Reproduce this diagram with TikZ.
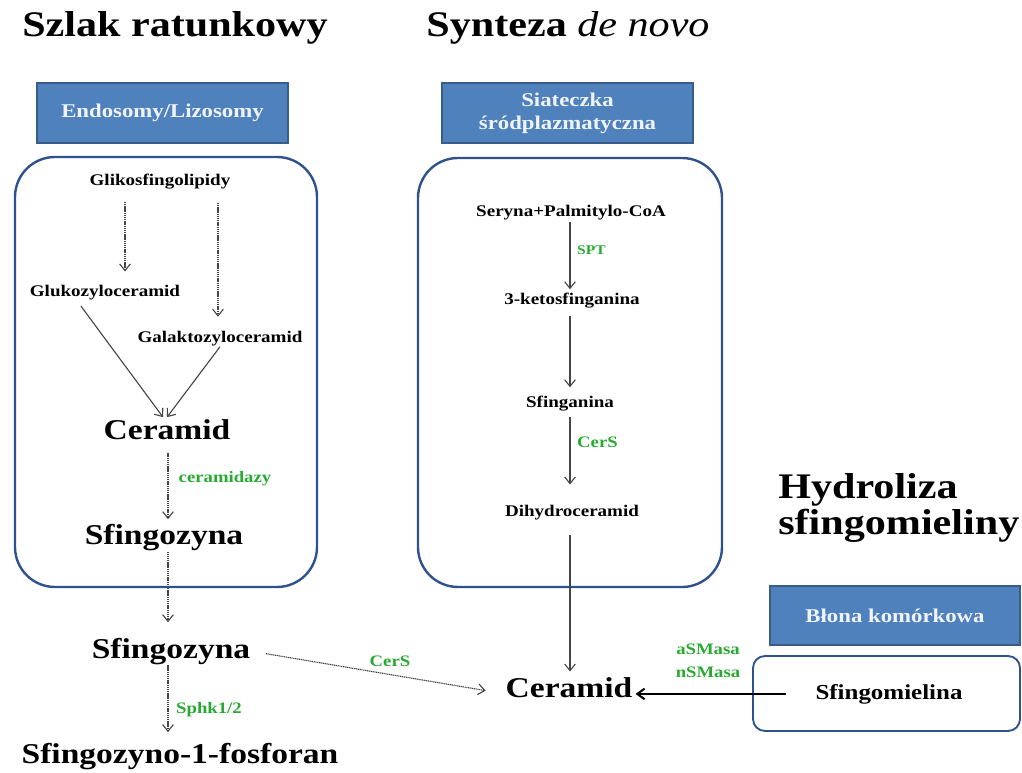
\documentclass[tikz,border=0pt]{standalone}
\usepackage{fontspec}
\setmainfont{Liberation Serif}[FakeStretch=1.17]
\usetikzlibrary{arrows.meta,calc}
\definecolor{hdrfill}{RGB}{79,129,189}
\definecolor{hdrdraw}{RGB}{56,93,138}
\definecolor{boxdraw}{RGB}{47,82,143}
\definecolor{enz}{RGB}{40,170,50}
\definecolor{arr}{RGB}{70,70,70}
\definecolor{hdrtext}{RGB}{240,244,250}
\begin{document}
\begin{tikzpicture}[x=0.75pt,y=-0.75pt,
  txt/.style={inner sep=0pt, anchor=base, font=\bfseries\fontsize{12.2}{14}\selectfont},
  big/.style={inner sep=0pt, anchor=base, font=\bfseries\fontsize{21.5}{24}\selectfont},
  ttl/.style={inner sep=0pt, anchor=base, font=\bfseries\fontsize{27}{32}\selectfont},
  enzl/.style={inner sep=0pt, anchor=base, text=enz, font=\bfseries\fontsize{12}{14}\selectfont},
  hdr/.style={draw=hdrdraw, fill=hdrfill, line width=1.2pt, text=hdrtext, font=\bfseries\fontsize{14.6}{17.25}\selectfont, align=center, minimum width=188.25pt, minimum height=45pt, inner sep=0pt},
  container/.style={draw=boxdraw, line width=1.8pt, rounded corners=30pt, inner sep=0pt},
  tipg/.style={-{Straight Barb[length=5pt,width=8pt]}},
  dotarr/.style={tipg, draw=arr, line width=0.85pt, dash pattern=on 0.9pt off 0.5pt},
  solarr/.style={tipg, draw=arr, line width=0.85pt},
]
\useasboundingbox (0,0) rectangle (1022,773);

% titles
\node[ttl] (t1) at (175,37) {Szlak ratunkowy};
\node[ttl] (t2) at (568,37) {Synteza {\mdseries\itshape de novo}};
\node[ttl, anchor=base west] (t3a) at (778,499) {Hydroliza};
\node[ttl, anchor=base west] (t3b) at (778,535) {sfingomieliny};

% headers
\node[hdr] (h1) at (162.5,113) {Endosomy/Lizosomy};
\node[hdr] (h2) at (567.5,113) {Siateczka\\śródplazmatyczna};
\node[hdr, minimum width=187.5pt, minimum height=44.25pt] (h3) at (895,615.5) {Błona komórkowa};

% containers
\node[container, minimum width=226.5pt, minimum height=322.5pt] (c1) at (166,372) {};
\node[container, minimum width=228pt, minimum height=321.75pt] (c2) at (570,372.5) {};
\node[container, rounded corners=9pt, line width=1.4pt, minimum width=200.25pt, minimum height=56.25pt] (c3) at (886.5,693.5) {};

% salvage pathway
\node[txt] (glik) at (160,186) {Glikosfingolipidy};
\node[txt] (gluk) at (105,297) {Glukozyloceramid};
\node[txt] (galak) at (220,343) {Galaktozyloceramid};
\node[big] (cerL) at (167,440) {Ceramid};
\node[big] (sf1) at (164,545) {Sfingozyna};
\node[big] (sf2) at (171,658) {Sfingozyna};
\node[big] (s1p) at (180,763) {Sfingozyno-1-fosforan};

% de novo
\node[txt] (ser) at (571,217) {Seryna+Palmitylo-CoA};
\node[txt] (keto) at (572,305) {3-ketosfinganina};
\node[txt] (sfa) at (570,408) {Sfinganina};
\node[txt] (dhc) at (572,517) {Dihydroceramid};
\node[big] (cerR) at (569,697) {Ceramid};

% hydrolysis
\node[txt, font=\bfseries\fontsize{16}{18}\selectfont] (sfm) at (889,699) {Sfingomielina};

% enzyme labels
\node[enzl] (eceram) at (225,483) {ceramidazy};
\node[enzl] (esphk) at (209,713) {Sphk1/2};
\node[enzl] (ecers1) at (390,667) {CerS};
\node[enzl, font=\bfseries\fontsize{10}{12}\selectfont] (espt) at (591.5,255) {SPT};
\node[enzl] (ecers2) at (597.5,448) {CerS};
\node[enzl] (easm) at (708,655) {aSMasa};
\node[enzl] (ensm) at (708,677) {nSMasa};

% connectors (salvage)
\draw[dotarr, shorten <=9pt, shorten >=10.5pt] (glik.south -| 125,0) -- (gluk.north -| 125,0);
\draw[dotarr, shorten <=9.75pt, shorten >=11pt] (glik.south -| 218,0) -- (galak.north -| 218,0);
\draw[solarr, shorten <=5pt, shorten >=2.5pt] (gluk.south -| 77,0) -- (cerL.north -| 165,0);
\draw[solarr, shorten >=2.5pt] (galak.south) -- (cerL.north -| 165,0);
\draw[dotarr, shorten <=9pt, shorten >=4pt] (cerL.south -| 168,0) -- (sf1.north -| 168,0);
\draw[dotarr, shorten <=0.5pt, shorten >=11.5pt] (sf1.south -| 168,0) -- (sf2.north -| 168,0);
\draw[dotarr, shorten >=7.8pt] (sf2.south -| 168,0) -- (s1p.north -| 168,0);
\draw[dotarr, shorten <=11.6pt, shorten >=15pt] (sf2.east) -- (cerR.mid west);

% connectors (de novo)
\draw[solarr, shorten <=1pt, shorten >=3pt] (ser.south -| 570,0) -- (keto.north -| 570,0);
\draw[solarr, shorten <=5pt, shorten >=6.75pt] (keto.south -| 570,0) -- (sfa.north -| 570,0);
\draw[solarr, shorten <=4pt, shorten >=15.75pt] (sfa.south -| 570,0) -- (dhc.north -| 570,0);
\draw[solarr, shorten <=11pt, shorten >=4pt] (dhc.south -| 570,0) -- (cerR.north -| 570,0);

% connector (hydrolysis)
\draw[-{Straight Barb[length=5.5pt,width=8pt]}, line width=1.5pt, black, shorten <=21.75pt, shorten >=2.25pt] (sfm.west |- cerR.mid east) -- (cerR.mid east);
\end{tikzpicture}
\end{document}
